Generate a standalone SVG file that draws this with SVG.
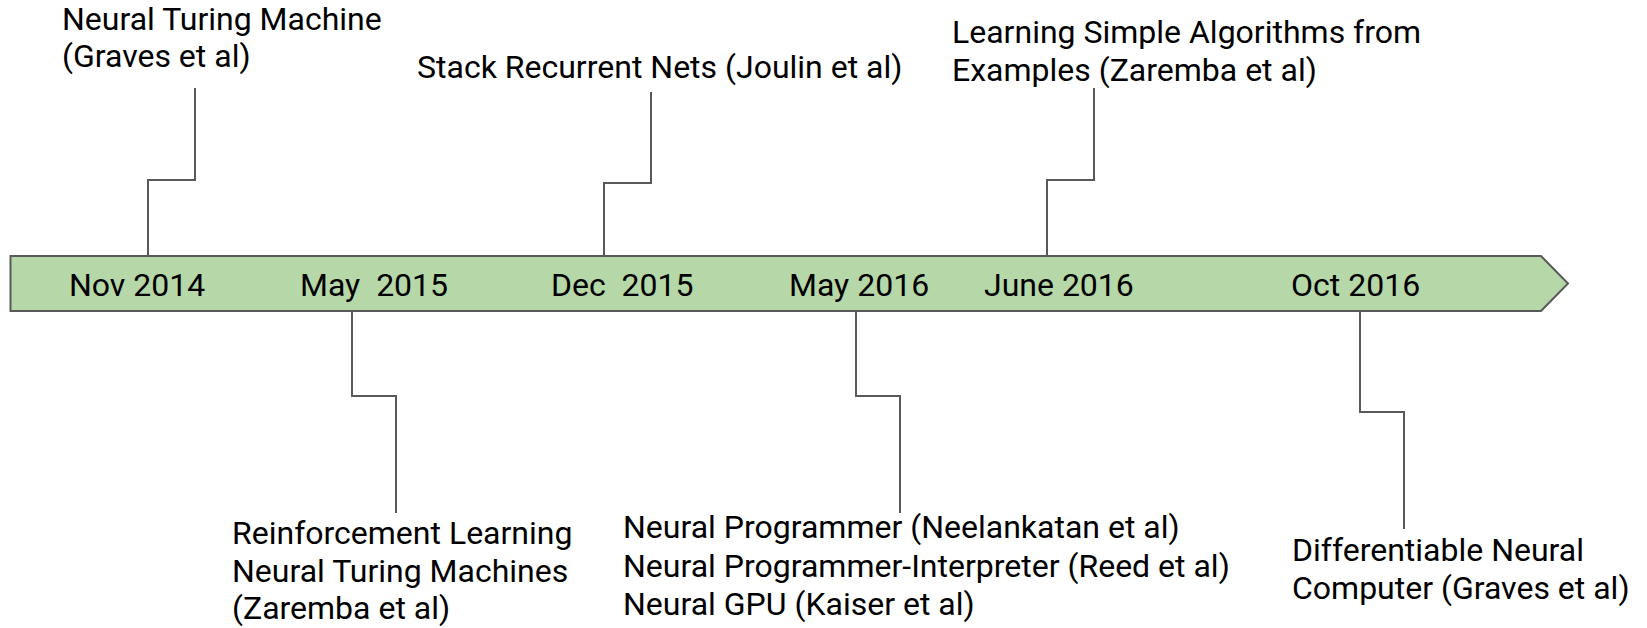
<svg xmlns="http://www.w3.org/2000/svg" width="1647" height="628" viewBox="0 0 1647 628">
<style>
text{font-family:Roboto,"Liberation Sans",sans-serif;font-size:32px;fill:#000}
.c{fill:none;stroke:#595959;stroke-width:2}
.bar{fill:#b6d7a8;stroke:#595959;stroke-width:2}
</style>
<rect width="1647" height="628" fill="#fff"/>
<g id="timeline">
<path class="bar" d="M10.5 256 H1541 L1568 283.5 L1541 311 H10.5 Z"/>
<text x="69" y="296">Nov 2014</text>
<text x="300" y="296" xml:space="preserve">May  2015</text>
<text x="551" y="296" xml:space="preserve">Dec  2015</text>
<text x="789" y="296">May 2016</text>
<text x="984" y="296">June 2016</text>
<text x="1291" y="296">Oct 2016</text>
</g>
<g id="connectors">
<path class="c" d="M148 256 V180 H195 V88"/>
<path class="c" d="M604 256 V183 H651 V92"/>
<path class="c" d="M1047 256 V180 H1094 V88"/>
<path class="c" d="M352 311 V396 H396 V513"/>
<path class="c" d="M856 311 V396 H900 V513"/>
<path class="c" d="M1360 311 V412 H1404 V529"/>
</g>
<g id="ntm"><text x="62" y="30">Neural Turing Machine</text><text x="62" y="67">(Graves et al)</text></g>
<g id="stack"><text x="417" y="78">Stack Recurrent Nets (Joulin et al)</text></g>
<g id="lsa"><text x="952" y="43">Learning Simple Algorithms from</text><text x="952" y="81">Examples (Zaremba et al)</text></g>
<g id="rlntm"><text x="232" y="544">Reinforcement Learning</text><text x="232" y="582">Neural Turing Machines</text><text x="232" y="619">(Zaremba et al)</text></g>
<g id="np"><text x="623" y="538">Neural Programmer (Neelankatan et al)</text><text x="623" y="577">Neural Programmer-Interpreter (Reed et al)</text><text x="623" y="615">Neural GPU (Kaiser et al)</text></g>
<g id="dnc"><text x="1292" y="561">Differentiable Neural</text><text x="1292" y="599">Computer (Graves et al)</text></g>
</svg>
